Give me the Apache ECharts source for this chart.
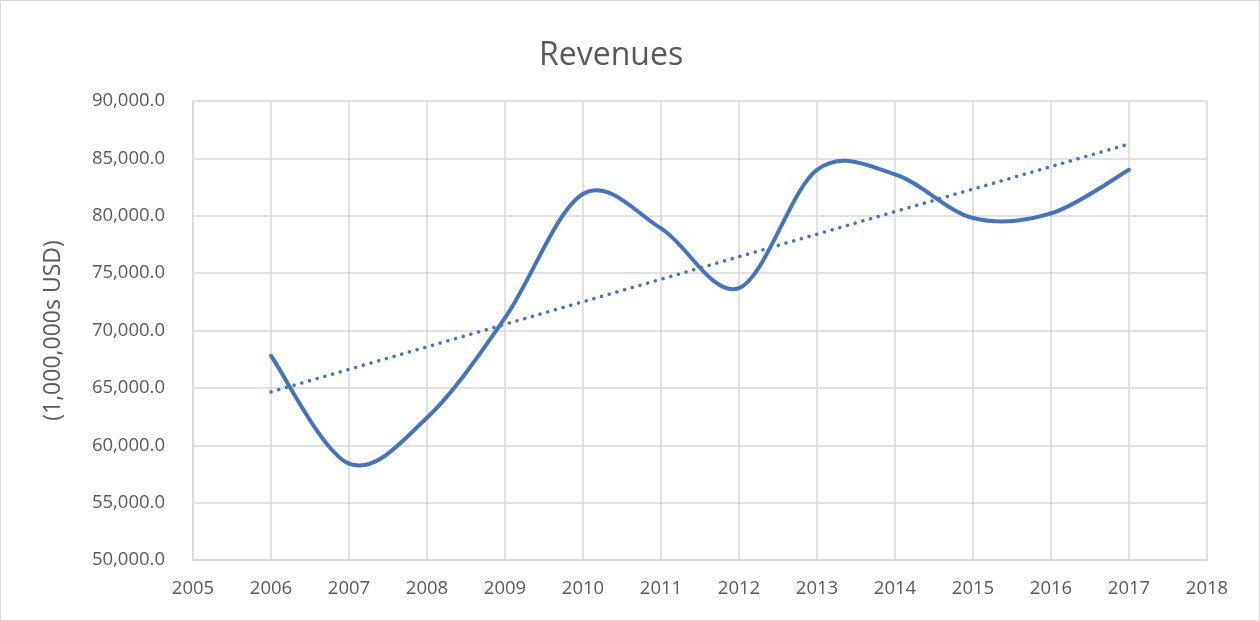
<!DOCTYPE html>
<html>
<head>
<meta charset="utf-8">
<script src="https://cdn.jsdelivr.net/npm/echarts@6/dist/echarts.min.js"></script>
<style>
  html, body { margin: 0; padding: 0; background: #fff; }
  #chart { width: 1258px; height: 619px; border: 1px solid #d9d9d9; }
</style>
</head>
<body>
<div id="chart"></div>
<script>
// revenue per year
var years = [2006, 2007, 2008, 2009, 2010, 2011, 2012, 2013, 2014, 2015, 2016, 2017];
var revenues = [67800, 58400, 62400, 71100, 81900, 78900, 73700, 84000, 83600, 79800, 80200, 84000];
// linear trendline end points
var trendYears = [2006, 2017];
var trendValues = [64650, 86250];

var revData = years.map(function (y, i) { return [y, revenues[i]]; });
var trendData = trendYears.map(function (y, i) { return [y, trendValues[i]]; });

var font = 'Open Sans, Noto Sans, sans-serif';
var labelFont = { color: '#595959', fontSize: 18.5, fontFamily: font };

// excel style smoothed line: one bezier per segment, catmull-rom control points
function renderSmooth(params, api) {
    var i = params.dataIndex;
    var n = revData.length;
    if (i >= n - 1) return null;
    var p = function (k) {
        k = Math.max(0, Math.min(n - 1, k));
        return api.coord(revData[k]);
    };
    var p0 = p(i - 1), p1 = p(i), p2 = p(i + 1), p3 = p(i + 2);
    return {
        type: 'bezierCurve',
        shape: {
            x1: p1[0], y1: p1[1],
            x2: p2[0], y2: p2[1],
            cpx1: p1[0] + (p2[0] - p0[0]) / 6,
            cpy1: p1[1] + (p2[1] - p0[1]) / 6,
            cpx2: p2[0] - (p3[0] - p1[0]) / 6,
            cpy2: p2[1] - (p3[1] - p1[1]) / 6
        },
        style: { stroke: '#4472c4', lineWidth: 4, fill: null, lineCap: 'round' }
    };
}

var myChart = echarts.init(document.getElementById('chart'));
var option = {
    animation: false,
    title: {
        text: 'Revenues',
        left: 533,
        top: 34,
        textStyle: { color: '#595959', fontSize: 32, fontWeight: 'normal', fontFamily: font }
    },
    grid: {
        left: 192,
        right: 52,
        top: 100,
        bottom: 60
    },
    xAxis: {
        type: 'value',
        min: 2005,
        max: 2018,
        interval: 1,
        axisLine: { show: true, lineStyle: { color: '#d9d9d9', width: 1.5 } },
        axisTick: { show: false },
        splitLine: { show: true, lineStyle: { color: '#d9d9d9', width: 1.5 } },
        axisLabel: Object.assign({ margin: 19, formatter: function (v) { return String(v); } }, labelFont)
    },
    yAxis: {
        type: 'value',
        min: 50000,
        max: 90000,
        interval: 5000,
        name: '(1,000,000s USD)',
        nameLocation: 'middle',
        nameGap: 128,
        nameTextStyle: { color: '#595959', fontSize: 23, fontFamily: font },
        axisLine: { show: true, lineStyle: { color: '#d9d9d9', width: 1.5 } },
        axisTick: { show: false },
        splitLine: { show: true, lineStyle: { color: '#d9d9d9', width: 1.5 } },
        axisLabel: Object.assign({
            margin: 28,
            formatter: function (v) { return v.toString().replace(/(\d)(?=(?:\d{3})+$)/g, '$1,') + '.0'; }
        }, labelFont)
    },
    series: [{
        type: 'custom',
        renderItem: renderSmooth,
        data: revData,
        z: 3
    }, {
        type: 'line',
        data: trendData,
        showSymbol: false,
        lineStyle: { color: '#4472c4', width: 3.5, type: [0.1, 7.9], cap: 'round' },
        z: 2
    }]
};
myChart.setOption(option);
window.addEventListener("resize", function () {
    myChart.resize();
});
</script>
</body>
</html>
